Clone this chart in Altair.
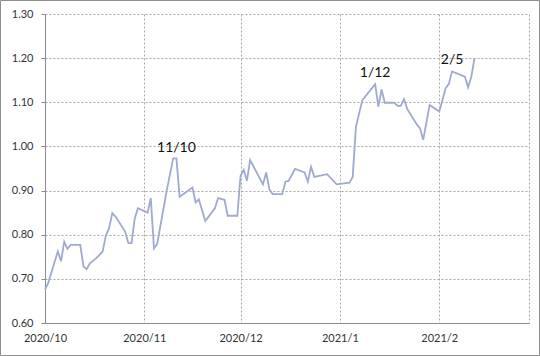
import altair as alt
import pandas as pd

dates = [
    "2020-10-01", "2020-10-02", "2020-10-05", "2020-10-06", "2020-10-07", "2020-10-08",
    "2020-10-09", "2020-10-12", "2020-10-13", "2020-10-14", "2020-10-15", "2020-10-17",
    "2020-10-19", "2020-10-20", "2020-10-21", "2020-10-22", "2020-10-23", "2020-10-26",
    "2020-10-27", "2020-10-28", "2020-10-29", "2020-10-30",
    "2020-11-02", "2020-11-03", "2020-11-04", "2020-11-05", "2020-11-08", "2020-11-10",
    "2020-11-11", "2020-11-12", "2020-11-16", "2020-11-17", "2020-11-18", "2020-11-20",
    "2020-11-23", "2020-11-24", "2020-11-26", "2020-11-27", "2020-11-30",
    "2020-12-01", "2020-12-02", "2020-12-03", "2020-12-04", "2020-12-08", "2020-12-09",
    "2020-12-10", "2020-12-11", "2020-12-14", "2020-12-15", "2020-12-16", "2020-12-18",
    "2020-12-21", "2020-12-22", "2020-12-23", "2020-12-24", "2020-12-28", "2020-12-31",
    "2021-01-04", "2021-01-05", "2021-01-06", "2021-01-08", "2021-01-12", "2021-01-13",
    "2021-01-14", "2021-01-15", "2021-01-18", "2021-01-19", "2021-01-20", "2021-01-21",
    "2021-01-22", "2021-01-25", "2021-01-26", "2021-01-27", "2021-01-29",
    "2021-02-01", "2021-02-02", "2021-02-03", "2021-02-04", "2021-02-05", "2021-02-09",
    "2021-02-10", "2021-02-11", "2021-02-12",
]
values = [
    0.676, 0.691, 0.762, 0.740, 0.784, 0.768,
    0.777, 0.777, 0.728, 0.722, 0.735, 0.747,
    0.762, 0.799, 0.815, 0.849, 0.841, 0.807,
    0.781, 0.781, 0.837, 0.860,
    0.850, 0.883, 0.769, 0.779, 0.901, 0.973,
    0.973, 0.886, 0.907, 0.873, 0.880, 0.831,
    0.860, 0.883, 0.879, 0.843, 0.843,
    0.933, 0.947, 0.922, 0.969, 0.914, 0.941,
    0.903, 0.892, 0.892, 0.920, 0.922, 0.949,
    0.941, 0.920, 0.954, 0.931, 0.937, 0.914,
    0.918, 0.931, 1.044, 1.105, 1.141, 1.090,
    1.129, 1.099, 1.099, 1.092, 1.092, 1.107,
    1.085, 1.050, 1.041, 1.015, 1.094,
    1.079, 1.105, 1.132, 1.142, 1.170, 1.158,
    1.134, 1.158, 1.200,
]

ann_dates = ["2020-11-11", "2021-01-12", "2021-02-05"]
ann_values = [0.987, 1.158, 1.187]
ann_labels = ["11/10", "1/12", "2/5"]

y_ticks = [0.6, 0.7, 0.8, 0.9, 1.0, 1.1, 1.2, 1.3]
month_ticks = [(2020, 10), (2020, 11), (2020, 12), (2021, 1), (2021, 2), (2021, 3)]

df = pd.DataFrame({"date": pd.to_datetime(dates), "value": values})
ann = pd.DataFrame({"date": pd.to_datetime(ann_dates), "value": ann_values, "label": ann_labels})

x_vals = [alt.DateTime(year=y, month=m, date=1) for y, m in month_ticks]
x_scale = alt.Scale(domain=[x_vals[0], x_vals[-1]])
y_scale = alt.Scale(domain=[0.6, 1.3], nice=False, zero=False)

FONT = "Lato"

x_axis = alt.Axis(
    values=x_vals,
    labelExpr="month(datum.value) == 2 ? '' : timeFormat(datum.value, '%Y/%-m')",
    title=None, ticks=False, tickSize=0, labelPadding=9,
    labelFlush=False, labelOverlap=False,
    grid=True, gridColor="#a6a6a6", gridDash=[2, 2], gridWidth=1,
    domainColor="#8c8c8c", labelFont=FONT, labelFontSize=11, labelColor="#333333",
    labelAngle=0,
)
y_axis = alt.Axis(
    values=y_ticks, format=".2f", title=None,
    tickSize=4, tickColor="#8c8c8c", labelPadding=8,
    labelFlush=False, labelOverlap=False,
    grid=True, gridColor="#a6a6a6", gridDash=[2, 2], gridWidth=1,
    domainColor="#8c8c8c", labelFont=FONT, labelFontSize=11, labelColor="#333333",
)

line = alt.Chart(df).mark_line(color="#a0a9d0", strokeWidth=1.8).encode(
    x=alt.X("date:T", scale=x_scale, axis=x_axis),
    y=alt.Y("value:Q", scale=y_scale, axis=y_axis),
)

text = alt.Chart(ann).mark_text(
    font=FONT, fontSize=14, align="center", baseline="alphabetic", color="#111111"
).encode(
    x=alt.X("date:T", scale=x_scale),
    y=alt.Y("value:Q", scale=y_scale),
    text="label:N",
)

frame = alt.Chart(pd.DataFrame({"a": [0]})).mark_rect(
    fill=None, stroke="#8f8f8f", strokeWidth=1
).encode(
    x=alt.value(-44.5), x2=alt.value(494.5), y=alt.value(-13.5), y2=alt.value(341.5)
)

chart = alt.layer(line, text, frame).properties(
    width=484, height=309,
    padding={"left": 45, "top": 14, "right": 11, "bottom": 33},
    autosize=alt.AutoSizeParams(type="none"),
    background="white",
).configure_view(stroke=None)

chart.save("out.html", embed_options={"renderer": "svg", "actions": False})
